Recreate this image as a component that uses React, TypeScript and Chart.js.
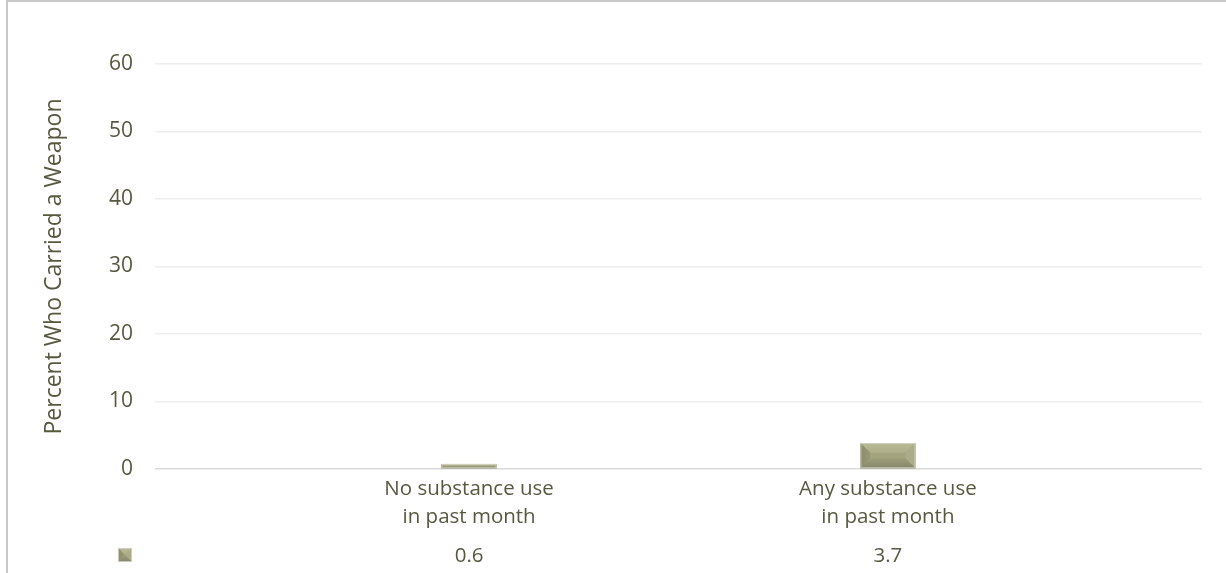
import React, { useEffect, useRef } from "react";
import { Chart, registerables } from "chart.js";

Chart.register(...registerables);

const categories: string[][] = [
  ["No substance use", "in past month"],
  ["Any substance use", "in past month"],
];
const values: number[] = [0.6, 3.7];
const yTitle = "Percent Who Carried a Weapon";
const yMin = 0;
const yMax = 60;
const yStep = 10;

const TEXT = "#585840";
const FONT = "'Open Sans', 'DejaVu Sans', sans-serif";
const FACE = "#a4a57f";

function bevelRect(ctx: CanvasRenderingContext2D, x: number, y: number, w: number, h: number, maxB: number) {
  const b = Math.max(0, Math.min(maxB, h / 2, w / 2));
  ctx.save();
  ctx.fillStyle = FACE;
  ctx.fillRect(x, y, w, h);
  const poly = (pts: number[][], color: string | CanvasGradient) => {
    ctx.beginPath();
    ctx.moveTo(pts[0][0], pts[0][1]);
    for (let i = 1; i < pts.length; i++) ctx.lineTo(pts[i][0], pts[i][1]);
    ctx.closePath();
    ctx.fillStyle = color;
    ctx.fill();
  };
  const gTop = ctx.createLinearGradient(0, y, 0, y + Math.max(1, b));
  gTop.addColorStop(0, "#b9ba96");
  gTop.addColorStop(1, "#adae89");
  const gBot = ctx.createLinearGradient(0, y + h - Math.max(1, b), 0, y + h);
  gBot.addColorStop(0, "#9d9e79");
  gBot.addColorStop(1, "#84856a");
  const gLeft = ctx.createLinearGradient(x, 0, x + Math.max(1, b), 0);
  gLeft.addColorStop(0, "#8c8d6b");
  gLeft.addColorStop(1, "#979874");
  // top
  poly([[x, y], [x + w, y], [x + w - b, y + b], [x + b, y + b]], gTop);
  // left
  poly([[x, y], [x + b, y + b], [x + b, y + h - b], [x, y + h]], gLeft);
  // right
  poly([[x + w, y], [x + w, y + h], [x + w - b, y + h - b], [x + w - b, y + b]], "#acad88");
  // bottom
  poly([[x, y + h], [x + b, y + h - b], [x + w - b, y + h - b], [x + w, y + h]], gBot);
  // face
  ctx.fillStyle = FACE;
  ctx.fillRect(x + b, y + b, Math.max(0, w - 2 * b), Math.max(0, h - 2 * b));
  ctx.strokeStyle = "rgba(210,210,195,0.9)";
  ctx.lineWidth = 1;
  ctx.strokeRect(x + 0.5, y + 0.5, w - 1, h - 1);
  ctx.restore();
}

export default function App() {
  const ref = useRef<HTMLCanvasElement | null>(null);

  useEffect(() => {
    if (!ref.current) return;
    const labels: string[] = [];
    const data: (number | null)[] = [];
    categories.forEach((c, i) => {
      labels.push("");
      data.push(null);
      labels.push(c.join(" "));
      data.push(values[i]);
    });
    labels.push("");
    data.push(null);

    const bevelPlugin = {
      id: "bevelAndTable",
      afterDatasetsDraw(chart: any) {
        const ctx = chart.ctx as CanvasRenderingContext2D;
        const meta = chart.getDatasetMeta(0);
        meta.data.forEach((el: any, i: number) => {
          if (data[i] == null) return;
          const { x, y, base, width } = el.getProps(["x", "y", "base", "width"], true);
          const top = Math.min(y, base) - 1;
          const h = Math.abs(base - y) + 1;
          bevelRect(ctx, x - width / 2, top, width, h, 10);
        });
      },
      afterDraw(chart: any) {
        const ctx = chart.ctx as CanvasRenderingContext2D;
        const xs = chart.scales.x;
        ctx.save();
        ctx.fillStyle = TEXT;
        ctx.font = `20.5px ${FONT}`;
        ctx.textAlign = "center";
        ctx.textBaseline = "middle";
        categories.forEach((c, i) => {
          const idx = i * 2 + 1;
          const px = xs.getPixelForValue(idx);
          c.forEach((line, li) => {
            ctx.fillText(line, px, 489 + li * 28);
          });
          ctx.fillText(String(values[i]), px, 556);
        });
        ctx.restore();
        bevelRect(ctx, 118, 548, 14, 14, 7);
      },
    };

    const chart = new Chart(ref.current, {
      type: "bar",
      data: {
        labels,
        datasets: [
          {
            data,
            backgroundColor: FACE,
            borderWidth: 0,
            categoryPercentage: 1,
            barPercentage: 0.263,
          },
        ],
      },
      options: {
        animation: false,
        responsive: false,
        devicePixelRatio: 1,
        layout: { padding: { top: 64, right: 24, bottom: 0, left: 0 } },
        plugins: {
          legend: { display: false },
          tooltip: { enabled: false },
        },
        scales: {
          x: {
            ticks: { display: false },
            grid: { display: false, drawTicks: false },
            border: { display: false },
            afterFit: (s: any) => {
              s.height = 104;
            },
          },
          y: {
            min: yMin,
            max: yMax,
            ticks: {
              stepSize: yStep,
              color: TEXT,
              padding: 22,
              font: { family: FONT, size: 21 },
            },
            grid: {
              drawTicks: false,
              lineWidth: 1.5,
              color: (c: any) => (c.tick && c.tick.value === 0 ? "#d9d9d9" : "#eeeeee"),
            },
            border: { display: false },
            title: {
              display: true,
              text: yTitle,
              color: TEXT,
              font: { family: FONT, size: 23 },
              padding: { top: 41, bottom: 0 },
            },
            afterFit: (s: any) => {
              s.width = 155;
            },
          },
        },
      },
      plugins: [bevelPlugin],
    });
    return () => chart.destroy();
  }, []);

  return (
    <div style={{ position: "absolute", left: 0, top: 0, width: 1226, height: 573, background: "#fff", overflow: "hidden" }}>
      <canvas ref={ref} width={1226} height={573} style={{ position: "absolute", left: 0, top: 0 }} />
      <div
        style={{
          position: "absolute",
          left: 6,
          top: 0,
          width: 1240,
          height: 600,
          borderLeft: "2px solid #c8c8c8",
          borderTop: "2px solid #c8c8c8",
          pointerEvents: "none",
        }}
      />
    </div>
  );
}
